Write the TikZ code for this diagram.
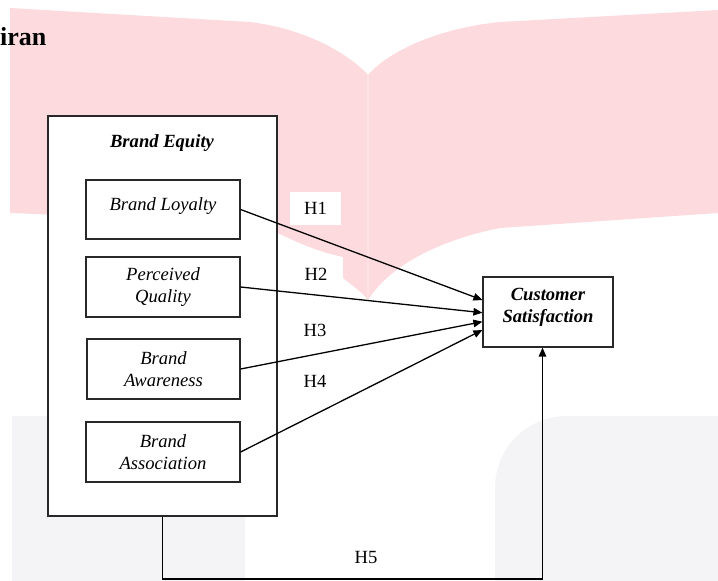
\documentclass[tikz,border=0pt]{standalone}
\usepackage{fontspec}
\setmainfont{Liberation Serif}
\usetikzlibrary{arrows.meta,calc}
\definecolor{wmpink}{RGB}{253,218,222}
\definecolor{wmpinkline}{RGB}{254,226,229}
\definecolor{wmgray}{RGB}{244,244,246}
\definecolor{boxline}{RGB}{40,40,40}
\tikzset{
  box/.style={draw=boxline, line width=1.2pt, fill=white, rectangle, inner sep=0pt,
    align=center, font=\fontsize{18.6}{22.4}\selectfont\itshape},
  boldtext/.style={inner sep=0pt, align=center, font=\fontsize{18.6}{22.4}\selectfont\bfseries\itshape},
  hlabel/.style={font=\fontsize{18.6}{22}\selectfont, inner sep=0pt},
  arr/.style={line width=1.3pt, -{Triangle[length=9pt,width=7.5pt]}},
}
\begin{document}
\begin{tikzpicture}[x=1pt,y=-1pt]
\useasboundingbox (0,0) rectangle (718,581);
% watermark
\fill[wmpink] (10,8) -- (250,22) .. controls (300,28) and (345,50) .. (368,75)
  -- (368,300) .. controls (360,290) and (350,284) .. (343,278) -- (343,257)
  .. controls (310,250) and (290,238) .. (277,233)
  .. controls (200,225) and (80,215) .. (10,213) -- cycle;
\fill[wmpink] (368,75) .. controls (390,50) and (440,28) .. (500,22) -- (718,10)
  -- (718,213) -- (500,228) .. controls (440,240) and (390,265) .. (368,300) -- cycle;
\draw[wmpinkline, line width=1.5pt] (368,76) -- (368,298);
\fill[wmgray] (12,416) rectangle (245,581);
\fill[wmgray] (495,581) -- (495,488) .. controls (495,448) and (527,416) .. (567,416)
  -- (718,416) -- (718,581) -- cycle;
% heading fragment
\node[anchor=base west, inner sep=0pt, font=\fontsize{26}{30}\selectfont\bfseries] (head) at (0,45) {iran};
% boxes
\node[box, minimum width=229pt, minimum height=400pt] (eq) at (162.5,316) {};
\node[boldtext, anchor=base] (eqt) at (162,147) {Brand Equity};
\node[box, minimum width=154pt, minimum height=59pt, text height=13pt, text depth=12pt] (bl) at (163,209.5) {Brand Loyalty};
\node[box, minimum width=154pt, minimum height=60pt] (pq) at (163,287) {Perceived\\Quality};
\node[box, minimum width=153pt, minimum height=60pt] (ba) at (163.5,369) {Brand\\Awareness};
\node[box, minimum width=154pt, minimum height=60pt] (bas) at (163,452) {Brand\\Association};
\node[box, minimum width=130pt, minimum height=70pt] (cs) at (548,312) {};
\node[boldtext] (cst) at (548,307.5) {Customer\\Satisfaction};
% labels
\node[hlabel, fill=white, minimum width=51pt, minimum height=33pt] (h1) at (315.5,208.5) {H1};
\node[hlabel] (h2) at (316,274) {H2};
\node[hlabel] (h3) at (315,330) {H3};
\node[hlabel] (h4) at (315,381) {H4};
\node[hlabel] (h5) at (366,557) {H5};
% connectors
\draw[arr] (bl.east) -- ([yshift=12pt]cs.west);
\draw[arr] (pq.east) -- ([yshift=-0.7pt]cs.west);
\draw[arr] (ba.east) -- ([yshift=-9.7pt]cs.west);
\draw[arr] (bas.east) -- ([yshift=-18pt]cs.west);
\coordinate (h5c) at (162.5,579);
\draw[arr] (eq.south) -- (h5c) -| ([xshift=-5.5pt]cs.south);
\end{tikzpicture}
\end{document}
